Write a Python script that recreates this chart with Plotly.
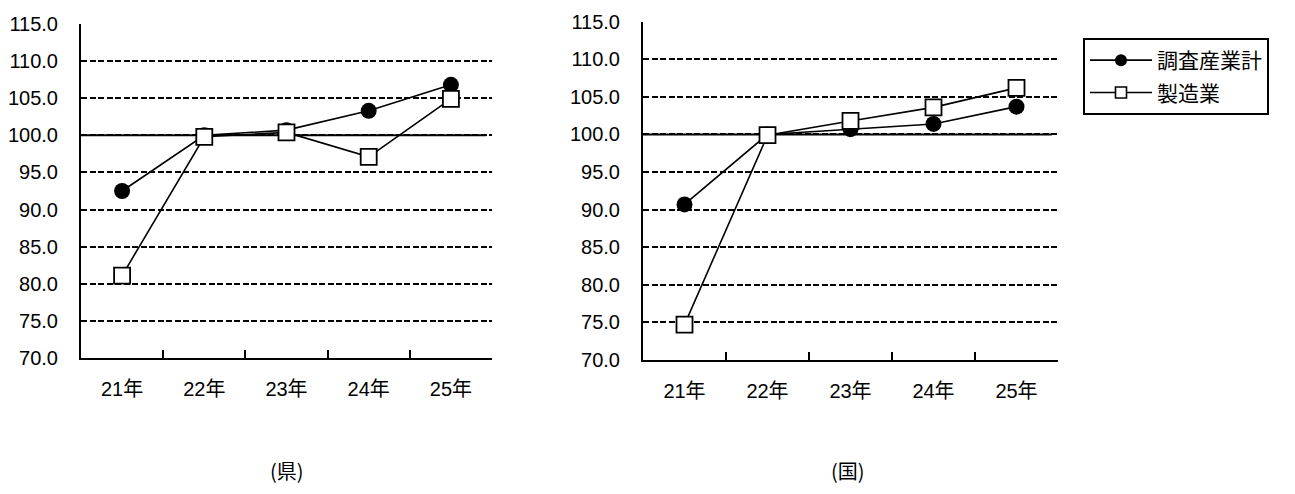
import plotly.graph_objects as go

categories = ["21年", "22年", "23年", "24年", "25年"]
ken_total = [92.5, 100.0, 100.7, 103.3, 106.8]
ken_mfg = [81.1, 99.8, 100.4, 97.1, 104.9]
kuni_total = [90.7, 100.0, 100.7, 101.4, 103.7]
kuni_mfg = [74.7, 99.9, 101.8, 103.6, 106.2]
y_ticks = [70, 75, 80, 85, 90, 95, 100, 105, 110, 115]
panel_labels = ["(県)", "(国)"]
series_names = ["調査産業計", "製造業"]

FONT = "Liberation Sans, Noto Sans CJK JP, Arial, sans-serif"
CJK = "Noto Sans CJK JP, sans-serif"
W, H, OFF = 1295, 494, 8


def px(x):
    return (x - OFF) / W


def py(y):
    return 1 - (y - OFF) / H


fig = go.Figure()


def add_series(total, mfg, xa, ya):
    fig.add_trace(go.Scatter(
        x=categories, y=total, name=series_names[0], mode="lines+markers",
        line=dict(color="black", width=1.6),
        marker=dict(symbol="circle", size=16, color="black"),
        xaxis=xa, yaxis=ya, showlegend=False))
    fig.add_trace(go.Scatter(
        x=categories, y=mfg, name=series_names[1], mode="lines+markers",
        line=dict(color="black", width=1.6),
        marker=dict(symbol="square", size=16, color="white",
                    line=dict(color="black", width=1.8)),
        xaxis=xa, yaxis=ya, showlegend=False))


add_series(ken_total, ken_mfg, "x", "y")
add_series(kuni_total, kuni_mfg, "x2", "y2")

# legend entries (same styling, smaller legend symbols)
fig.add_trace(go.Scatter(x=[None], y=[None], name=series_names[0], mode="lines+markers",
                         line=dict(color="black", width=1.6),
                         marker=dict(symbol="circle", size=12, color="black"),
                         legendgroup="a", showlegend=True))
fig.add_trace(go.Scatter(x=[None], y=[None], name=series_names[1], mode="lines+markers",
                         line=dict(color="black", width=1.6),
                         marker=dict(symbol="square", size=11, color="white",
                                     line=dict(color="black", width=1.6)),
                         legendgroup="b", showlegend=True))

xcommon = dict(type="category", range=[-0.5, 4.5], showline=True, linecolor="black",
               linewidth=2, ticks="inside", ticklen=8, tickwidth=2, tickcolor="black",
               tickson="boundaries", showgrid=False, zeroline=False, automargin=False,
               tickfont=dict(family=FONT, size=20, color="black"),
               ticklabelstandoff=12)
ycommon = dict(range=[70, 115], tickvals=y_ticks, tickformat=".1f", showline=True,
               linecolor="black", linewidth=2, ticks="inside", ticklen=6,
               tickwidth=2, tickcolor="black", showgrid=True, gridcolor="black",
               griddash="6px,2.5px", gridwidth=1.7, zeroline=False, automargin=False,
               tickfont=dict(family=FONT, size=20, color="black"),
               ticklabelstandoff=17)

fig.update_layout(
    width=W, height=H,
    margin=dict(l=0, r=0, t=0, b=0, autoexpand=False),
    paper_bgcolor="white", plot_bgcolor="white",
    xaxis=dict(domain=[px(81), px(492)], anchor="y", **xcommon),
    yaxis=dict(domain=[py(358), py(24)], anchor="x", **ycommon),
    xaxis2=dict(domain=[px(643), px(1058)], anchor="y2", **xcommon),
    yaxis2=dict(domain=[py(360), py(21.7)], anchor="x2", **ycommon),
    legend=dict(x=px(1083), y=py(38), xanchor="left", yanchor="top",
                bordercolor="black", borderwidth=2, bgcolor="white",
                font=dict(family=CJK, size=21, color="black"),
                itemwidth=62, tracegroupgap=2, traceorder="grouped"),
    showlegend=True,
)

for xr, yr in (("x", "y"), ("x2", "y2")):
    fig.add_shape(type="line", xref=f"{xr} domain", yref=yr, x0=0, x1=0.985, y0=100, y1=100,
                  line=dict(color="black", width=2), layer="below")

for label, xpos in zip(panel_labels, [287, 848]):
    fig.add_annotation(text=label, x=px(xpos), y=py(470), xref="paper", yref="paper",
                       showarrow=False, xanchor="center", yanchor="middle",
                       font=dict(family=CJK, size=20, color="black"))

fig.write_html("out.html")
